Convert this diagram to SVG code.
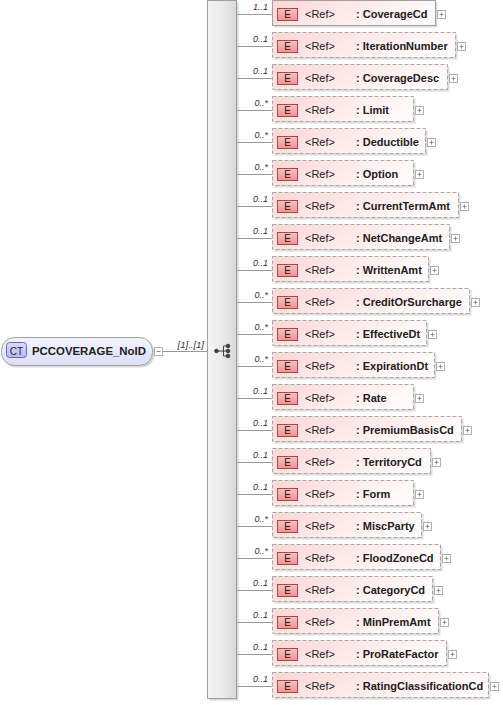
<svg xmlns="http://www.w3.org/2000/svg" xmlns:xlink="http://www.w3.org/1999/xlink" width="503" height="705" viewBox="0 0 503 705">
<defs>
<linearGradient id="gBox" x1="0" y1="0" x2="1" y2="0.3"><stop offset="0" stop-color="#fcd6d6"/><stop offset="1" stop-color="#fffafa"/></linearGradient>
<linearGradient id="gE" x1="0" y1="0" x2="0" y2="1"><stop offset="0" stop-color="#f9c0c0"/><stop offset="1" stop-color="#ec9494"/></linearGradient>
<linearGradient id="gSeq" x1="0" y1="0" x2="1" y2="0"><stop offset="0" stop-color="#f4f4f4"/><stop offset="0.6" stop-color="#e8e8e8"/><stop offset="1" stop-color="#d8d8d8"/></linearGradient>
<linearGradient id="gCT" x1="0" y1="0" x2="0" y2="1"><stop offset="0" stop-color="#f4f4ff"/><stop offset="1" stop-color="#dcdcf6"/></linearGradient>
<linearGradient id="gCTi" x1="0" y1="0" x2="0" y2="1"><stop offset="0" stop-color="#dcdcf8"/><stop offset="1" stop-color="#b8b8ec"/></linearGradient>
<symbol id="plus" viewBox="0 0 9 9" width="9" height="9" overflow="visible"><rect x="0.5" y="0.5" width="8" height="8" fill="#fff" stroke="#b0b0b0"/><path d="M2.5 4.5h4M4.5 2.5v4" stroke="#909090"/></symbol>
</defs>
<style>
.shadow{fill:#dcdcdc;}
.box{fill:url(#gBox);stroke:#a8a8a8;stroke-width:1;stroke-dasharray:4,2;}
.req{stroke-dasharray:none;stroke:#a0a0a0;}
.eicon{fill:url(#gE);stroke:#a84848;stroke-width:1;}
.etxt{font-family:"Liberation Sans",Arial,sans-serif;font-size:10px;fill:#301010;text-anchor:middle;}
.ref{font-family:"Liberation Sans",Arial,sans-serif;font-size:11px;fill:#202020;}
.name{font-family:"Liberation Sans",Arial,sans-serif;font-size:11px;font-weight:bold;fill:#202020;}
.mult{font-family:"Liberation Sans",Arial,sans-serif;font-size:9px;font-style:italic;fill:#303030;text-anchor:end;}
.conn{stroke:#9a9a9a;stroke-width:1;fill:none;}
</style>

<g id="sequence">
<rect x="209.5" y="2.5" width="29" height="698" fill="#d8d8d8"/>
<rect x="207.5" y="0.5" width="29" height="698" fill="url(#gSeq)" stroke="#a0a0a0"/>
<g fill="#404040" stroke="#404040">
<circle cx="216.5" cy="351" r="1.8"/>
<path d="M216.5 351H223.5M223.5 346V356M223.5 346H227M223.5 351H227M223.5 356H227" fill="none"/>
<circle cx="228" cy="346" r="1.8"/>
<circle cx="228" cy="351" r="1.8"/>
<circle cx="228" cy="356" r="1.8"/>
</g>
</g>

<g id="PCCOVERAGE_NoID">
<rect x="3.5" y="339.5" width="151" height="28" rx="13" fill="#d8d8d8"/>
<rect x="1.5" y="337.5" width="151" height="28" rx="13" fill="url(#gCT)" stroke="#a0a0a8"/>
<rect x="6.5" y="342.5" width="20" height="15" rx="3" fill="url(#gCTi)" stroke="#6a6aa8"/>
<text x="16.5" y="354.5" style="font-family:'Liberation Sans',Arial,sans-serif;font-size:10px;fill:#202050;text-anchor:middle;">CT</text>
<text x="32" y="355" style="font-family:'Liberation Sans',Arial,sans-serif;font-size:11.4px;font-weight:bold;fill:#202020;">PCCOVERAGE_NoID</text>
<rect x="154.5" y="347.5" width="8" height="8" fill="#fff" stroke="#b0b0b0"/>
<path d="M156.5 351.5h4" stroke="#909090"/>
</g>

<g id="connectors">
<path class="conn" d="M162.5 351.5H207.5"/>
<text class="mult" x="204" y="348" style="font-size:9.5px">[1]..[1]</text>
<g id="c-lines">
<path class="conn" d="M236.5 14.5H272.5M236.5 46.5H272.5M236.5 78.5H272.5M236.5 110.5H272.5M236.5 142.5H272.5M236.5 174.5H272.5M236.5 206.5H272.5M236.5 238.5H272.5M236.5 270.5H272.5M236.5 302.5H272.5M236.5 334.5H272.5M236.5 366.5H272.5M236.5 398.5H272.5M236.5 430.5H272.5M236.5 462.5H272.5M236.5 494.5H272.5M236.5 526.5H272.5M236.5 558.5H272.5M236.5 590.5H272.5M236.5 622.5H272.5M236.5 654.5H272.5M236.5 686.5H272.5"/>
</g>
<text class="mult" x="268" y="9.5">1..1</text>
<text class="mult" x="268" y="41.5">0..1</text>
<text class="mult" x="268" y="73.5">0..1</text>
<text class="mult" x="268" y="105.5">0..*</text>
<text class="mult" x="268" y="137.5">0..*</text>
<text class="mult" x="268" y="169.5">0..*</text>
<text class="mult" x="268" y="201.5">0..1</text>
<text class="mult" x="268" y="233.5">0..1</text>
<text class="mult" x="268" y="265.5">0..1</text>
<text class="mult" x="268" y="297.5">0..*</text>
<text class="mult" x="268" y="329.5">0..*</text>
<text class="mult" x="268" y="361.5">0..*</text>
<text class="mult" x="268" y="393.5">0..1</text>
<text class="mult" x="268" y="425.5">0..1</text>
<text class="mult" x="268" y="457.5">0..1</text>
<text class="mult" x="268" y="489.5">0..1</text>
<text class="mult" x="268" y="521.5">0..*</text>
<text class="mult" x="268" y="553.5">0..*</text>
<text class="mult" x="268" y="585.5">0..1</text>
<text class="mult" x="268" y="617.5">0..1</text>
<text class="mult" x="268" y="649.5">0..1</text>
<text class="mult" x="268" y="681.5">0..1</text>
</g>

<g id="CoverageCd" transform="translate(0,0)">
<rect class="shadow" x="274.5" y="2.5" width="163" height="25"/>
<rect class="box req" x="272.5" y="0.5" width="163" height="25"/>
<rect class="eicon" x="277.5" y="8.5" width="20" height="12"/>
<text class="etxt" x="287.5" y="18">E</text>
<text class="ref" x="305" y="17.5">&lt;Ref&gt;</text>
<text class="name" x="356" y="17.5">: CoverageCd</text>
<use xlink:href="#plus" x="437" y="10"/>
</g>
<g id="IterationNumber" transform="translate(0,32)">
<rect class="shadow" x="274.5" y="2.5" width="183" height="25"/>
<rect class="box" x="272.5" y="0.5" width="183" height="25"/>
<rect class="eicon" x="277.5" y="8.5" width="20" height="12"/>
<text class="etxt" x="287.5" y="18">E</text>
<text class="ref" x="305" y="17.5">&lt;Ref&gt;</text>
<text class="name" x="356" y="17.5">: IterationNumber</text>
<use xlink:href="#plus" x="457" y="10"/>
</g>
<g id="CoverageDesc" transform="translate(0,64)">
<rect class="shadow" x="274.5" y="2.5" width="175" height="25"/>
<rect class="box" x="272.5" y="0.5" width="175" height="25"/>
<rect class="eicon" x="277.5" y="8.5" width="20" height="12"/>
<text class="etxt" x="287.5" y="18">E</text>
<text class="ref" x="305" y="17.5">&lt;Ref&gt;</text>
<text class="name" x="356" y="17.5">: CoverageDesc</text>
<use xlink:href="#plus" x="449" y="10"/>
</g>
<g id="Limit" transform="translate(0,96)">
<rect class="shadow" x="274.5" y="2.5" width="141" height="25"/>
<rect class="box" x="272.5" y="0.5" width="141" height="25"/>
<rect class="eicon" x="277.5" y="8.5" width="20" height="12"/>
<text class="etxt" x="287.5" y="18">E</text>
<text class="ref" x="305" y="17.5">&lt;Ref&gt;</text>
<text class="name" x="356" y="17.5">: Limit</text>
<use xlink:href="#plus" x="415" y="10"/>
</g>
<g id="Deductible" transform="translate(0,128)">
<rect class="shadow" x="274.5" y="2.5" width="153" height="25"/>
<rect class="box" x="272.5" y="0.5" width="153" height="25"/>
<rect class="eicon" x="277.5" y="8.5" width="20" height="12"/>
<text class="etxt" x="287.5" y="18">E</text>
<text class="ref" x="305" y="17.5">&lt;Ref&gt;</text>
<text class="name" x="356" y="17.5">: Deductible</text>
<use xlink:href="#plus" x="427" y="10"/>
</g>
<g id="Option" transform="translate(0,160)">
<rect class="shadow" x="274.5" y="2.5" width="141" height="25"/>
<rect class="box" x="272.5" y="0.5" width="141" height="25"/>
<rect class="eicon" x="277.5" y="8.5" width="20" height="12"/>
<text class="etxt" x="287.5" y="18">E</text>
<text class="ref" x="305" y="17.5">&lt;Ref&gt;</text>
<text class="name" x="356" y="17.5">: Option</text>
<use xlink:href="#plus" x="415" y="10"/>
</g>
<g id="CurrentTermAmt" transform="translate(0,192)">
<rect class="shadow" x="274.5" y="2.5" width="186" height="25"/>
<rect class="box" x="272.5" y="0.5" width="186" height="25"/>
<rect class="eicon" x="277.5" y="8.5" width="20" height="12"/>
<text class="etxt" x="287.5" y="18">E</text>
<text class="ref" x="305" y="17.5">&lt;Ref&gt;</text>
<text class="name" x="356" y="17.5">: CurrentTermAmt</text>
<use xlink:href="#plus" x="460" y="10"/>
</g>
<g id="NetChangeAmt" transform="translate(0,224)">
<rect class="shadow" x="274.5" y="2.5" width="177" height="25"/>
<rect class="box" x="272.5" y="0.5" width="177" height="25"/>
<rect class="eicon" x="277.5" y="8.5" width="20" height="12"/>
<text class="etxt" x="287.5" y="18">E</text>
<text class="ref" x="305" y="17.5">&lt;Ref&gt;</text>
<text class="name" x="356" y="17.5">: NetChangeAmt</text>
<use xlink:href="#plus" x="451" y="10"/>
</g>
<g id="WrittenAmt" transform="translate(0,256)">
<rect class="shadow" x="274.5" y="2.5" width="156" height="25"/>
<rect class="box" x="272.5" y="0.5" width="156" height="25"/>
<rect class="eicon" x="277.5" y="8.5" width="20" height="12"/>
<text class="etxt" x="287.5" y="18">E</text>
<text class="ref" x="305" y="17.5">&lt;Ref&gt;</text>
<text class="name" x="356" y="17.5">: WrittenAmt</text>
<use xlink:href="#plus" x="430" y="10"/>
</g>
<g id="CreditOrSurcharge" transform="translate(0,288)">
<rect class="shadow" x="274.5" y="2.5" width="197" height="25"/>
<rect class="box" x="272.5" y="0.5" width="197" height="25"/>
<rect class="eicon" x="277.5" y="8.5" width="20" height="12"/>
<text class="etxt" x="287.5" y="18">E</text>
<text class="ref" x="305" y="17.5">&lt;Ref&gt;</text>
<text class="name" x="356" y="17.5">: CreditOrSurcharge</text>
<use xlink:href="#plus" x="471" y="10"/>
</g>
<g id="EffectiveDt" transform="translate(0,320)">
<rect class="shadow" x="274.5" y="2.5" width="154" height="25"/>
<rect class="box" x="272.5" y="0.5" width="154" height="25"/>
<rect class="eicon" x="277.5" y="8.5" width="20" height="12"/>
<text class="etxt" x="287.5" y="18">E</text>
<text class="ref" x="305" y="17.5">&lt;Ref&gt;</text>
<text class="name" x="356" y="17.5">: EffectiveDt</text>
<use xlink:href="#plus" x="428" y="10"/>
</g>
<g id="ExpirationDt" transform="translate(0,352)">
<rect class="shadow" x="274.5" y="2.5" width="162" height="25"/>
<rect class="box" x="272.5" y="0.5" width="162" height="25"/>
<rect class="eicon" x="277.5" y="8.5" width="20" height="12"/>
<text class="etxt" x="287.5" y="18">E</text>
<text class="ref" x="305" y="17.5">&lt;Ref&gt;</text>
<text class="name" x="356" y="17.5">: ExpirationDt</text>
<use xlink:href="#plus" x="436" y="10"/>
</g>
<g id="Rate" transform="translate(0,384)">
<rect class="shadow" x="274.5" y="2.5" width="141" height="25"/>
<rect class="box" x="272.5" y="0.5" width="141" height="25"/>
<rect class="eicon" x="277.5" y="8.5" width="20" height="12"/>
<text class="etxt" x="287.5" y="18">E</text>
<text class="ref" x="305" y="17.5">&lt;Ref&gt;</text>
<text class="name" x="356" y="17.5">: Rate</text>
<use xlink:href="#plus" x="415" y="10"/>
</g>
<g id="PremiumBasisCd" transform="translate(0,416)">
<rect class="shadow" x="274.5" y="2.5" width="189" height="25"/>
<rect class="box" x="272.5" y="0.5" width="189" height="25"/>
<rect class="eicon" x="277.5" y="8.5" width="20" height="12"/>
<text class="etxt" x="287.5" y="18">E</text>
<text class="ref" x="305" y="17.5">&lt;Ref&gt;</text>
<text class="name" x="356" y="17.5">: PremiumBasisCd</text>
<use xlink:href="#plus" x="463" y="10"/>
</g>
<g id="TerritoryCd" transform="translate(0,448)">
<rect class="shadow" x="274.5" y="2.5" width="158" height="25"/>
<rect class="box" x="272.5" y="0.5" width="158" height="25"/>
<rect class="eicon" x="277.5" y="8.5" width="20" height="12"/>
<text class="etxt" x="287.5" y="18">E</text>
<text class="ref" x="305" y="17.5">&lt;Ref&gt;</text>
<text class="name" x="356" y="17.5">: TerritoryCd</text>
<use xlink:href="#plus" x="432" y="10"/>
</g>
<g id="Form" transform="translate(0,480)">
<rect class="shadow" x="274.5" y="2.5" width="141" height="25"/>
<rect class="box" x="272.5" y="0.5" width="141" height="25"/>
<rect class="eicon" x="277.5" y="8.5" width="20" height="12"/>
<text class="etxt" x="287.5" y="18">E</text>
<text class="ref" x="305" y="17.5">&lt;Ref&gt;</text>
<text class="name" x="356" y="17.5">: Form</text>
<use xlink:href="#plus" x="415" y="10"/>
</g>
<g id="MiscParty" transform="translate(0,512)">
<rect class="shadow" x="274.5" y="2.5" width="149" height="25"/>
<rect class="box" x="272.5" y="0.5" width="149" height="25"/>
<rect class="eicon" x="277.5" y="8.5" width="20" height="12"/>
<text class="etxt" x="287.5" y="18">E</text>
<text class="ref" x="305" y="17.5">&lt;Ref&gt;</text>
<text class="name" x="356" y="17.5">: MiscParty</text>
<use xlink:href="#plus" x="423" y="10"/>
</g>
<g id="FloodZoneCd" transform="translate(0,544)">
<rect class="shadow" x="274.5" y="2.5" width="168" height="25"/>
<rect class="box" x="272.5" y="0.5" width="168" height="25"/>
<rect class="eicon" x="277.5" y="8.5" width="20" height="12"/>
<text class="etxt" x="287.5" y="18">E</text>
<text class="ref" x="305" y="17.5">&lt;Ref&gt;</text>
<text class="name" x="356" y="17.5">: FloodZoneCd</text>
<use xlink:href="#plus" x="442" y="10"/>
</g>
<g id="CategoryCd" transform="translate(0,576)">
<rect class="shadow" x="274.5" y="2.5" width="160" height="25"/>
<rect class="box" x="272.5" y="0.5" width="160" height="25"/>
<rect class="eicon" x="277.5" y="8.5" width="20" height="12"/>
<text class="etxt" x="287.5" y="18">E</text>
<text class="ref" x="305" y="17.5">&lt;Ref&gt;</text>
<text class="name" x="356" y="17.5">: CategoryCd</text>
<use xlink:href="#plus" x="434" y="10"/>
</g>
<g id="MinPremAmt" transform="translate(0,608)">
<rect class="shadow" x="274.5" y="2.5" width="166" height="25"/>
<rect class="box" x="272.5" y="0.5" width="166" height="25"/>
<rect class="eicon" x="277.5" y="8.5" width="20" height="12"/>
<text class="etxt" x="287.5" y="18">E</text>
<text class="ref" x="305" y="17.5">&lt;Ref&gt;</text>
<text class="name" x="356" y="17.5">: MinPremAmt</text>
<use xlink:href="#plus" x="440" y="10"/>
</g>
<g id="ProRateFactor" transform="translate(0,640)">
<rect class="shadow" x="274.5" y="2.5" width="174" height="25"/>
<rect class="box" x="272.5" y="0.5" width="174" height="25"/>
<rect class="eicon" x="277.5" y="8.5" width="20" height="12"/>
<text class="etxt" x="287.5" y="18">E</text>
<text class="ref" x="305" y="17.5">&lt;Ref&gt;</text>
<text class="name" x="356" y="17.5">: ProRateFactor</text>
<use xlink:href="#plus" x="448" y="10"/>
</g>
<g id="RatingClassificationCd" transform="translate(0,672)">
<rect class="shadow" x="274.5" y="2.5" width="216" height="25"/>
<rect class="box" x="272.5" y="0.5" width="216" height="25"/>
<rect class="eicon" x="277.5" y="8.5" width="20" height="12"/>
<text class="etxt" x="287.5" y="18">E</text>
<text class="ref" x="305" y="17.5">&lt;Ref&gt;</text>
<text class="name" x="356" y="17.5">: RatingClassificationCd</text>
<use xlink:href="#plus" x="490" y="10"/>
</g>
</svg>
